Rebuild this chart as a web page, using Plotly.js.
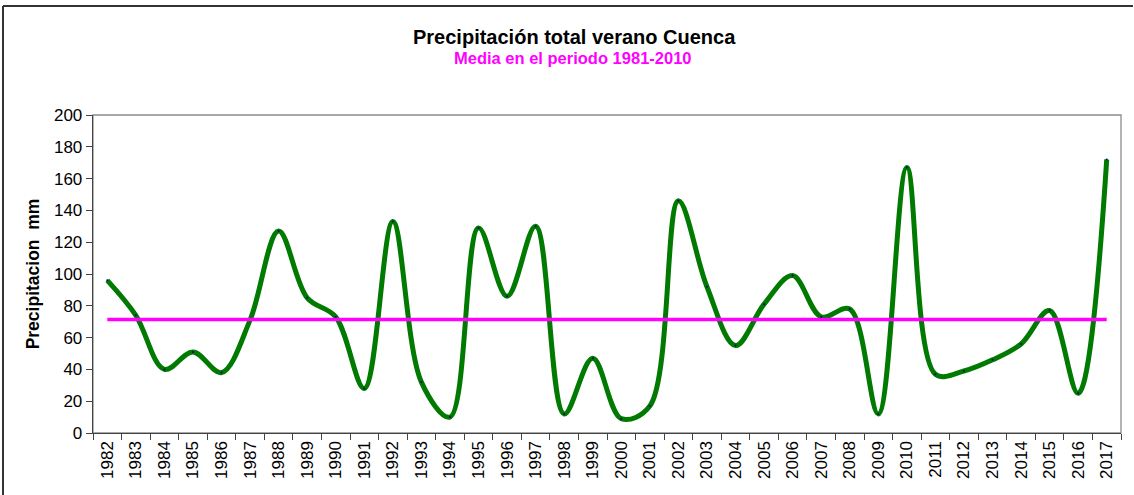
<!DOCTYPE html>
<html>
<head>
<meta charset="utf-8">
<script src="https://cdn.plot.ly/plotly-3.0.1.min.js"></script>
<style>
  html, body { margin: 0; padding: 0; background: #fff; }
  #chart { width: 1134px; height: 495px; }
</style>
</head>
<body>
<div id="chart"></div>
<script>
const years = ["1982","1983","1984","1985","1986","1987","1988","1989","1990","1991",
  "1992","1993","1994","1995","1996","1997","1998","1999","2000","2001",
  "2002","2003","2004","2005","2006","2007","2008","2009","2010","2011",
  "2012","2013","2014","2015","2016","2017"];
const precipitacion = [96, 74, 40, 51, 38, 71, 127, 85, 73, 28,
  133, 32, 10, 129, 86, 130, 12, 47, 9, 17,
  146, 92, 55, 81, 99, 73, 78, 12, 167, 37,
  39, 46, 56, 77, 25, 172];
const media = [71.4, 71.4, 71.4, 71.4, 71.4, 71.4, 71.4, 71.4, 71.4, 71.4,
  71.4, 71.4, 71.4, 71.4, 71.4, 71.4, 71.4, 71.4, 71.4, 71.4,
  71.4, 71.4, 71.4, 71.4, 71.4, 71.4, 71.4, 71.4, 71.4, 71.4,
  71.4, 71.4, 71.4, 71.4, 71.4, 71.4];
const yTicks = [0, 20, 40, 60, 80, 100, 120, 140, 160, 180, 200];

const FONT = "Liberation Sans, Arial, sans-serif";

const traces = [
  {
    x: years, y: precipitacion, type: "scatter", mode: "lines+markers",
    line: { color: "#007a00", width: 5, shape: "spline", smoothing: 1 },
    marker: { size: 2, color: "#000080" },
    hoverinfo: "x+y", showlegend: false
  },
  {
    x: years, y: media, type: "scatter", mode: "lines",
    line: { color: "#ff00ff", width: 3.5 },
    hoverinfo: "x+y", showlegend: false
  }
];

const layout = {
  width: 1134, height: 495,
  margin: { l: 93, r: 13, t: 115, b: 62 },
  paper_bgcolor: "#ffffff", plot_bgcolor: "#ffffff",
  font: { family: FONT, size: 17, color: "#000" },
  xaxis: {
    type: "category",
    showgrid: false, zeroline: false,
    showline: true, linecolor: "#444", linewidth: 1.3,
    ticks: "outside", tickson: "boundaries", ticklen: 6, tickcolor: "#444",
    tickangle: -90, tickfont: { family: FONT, size: 17, color: "#000" },
    range: [-0.5, 35.5], fixedrange: true
  },
  yaxis: {
    range: [0, 200], tickvals: yTicks, ticktext: yTicks.map(String),
    showgrid: false, zeroline: false,
    showline: true, linecolor: "#444", linewidth: 1.3,
    ticks: "outside", ticklen: 6, tickcolor: "#444",
    tickfont: { family: FONT, size: 17, color: "#000" },
    title: { text: "Precipitacion  mm", font: { family: FONT, size: 17.5, color: "#000", weight: "bold" }, standoff: 9 },
    fixedrange: true
  },
  shapes: [
    { type: "rect", xref: "paper", yref: "paper", x0: 0, x1: 1, y0: 0, y1: 1,
      line: { color: "#8c8c8c", width: 1.3 }, layer: "below" },
    { type: "line", xref: "paper", yref: "paper",
      x0: -90/1028, x1: 1 + 12/1028, y0: (495-62-6)/318, y1: (495-62-6)/318,
      line: { color: "#333", width: 2 } },
    { type: "line", xref: "paper", yref: "paper",
      x0: -90/1028, x1: -90/1028, y0: -62/318, y1: (495-62-6)/318,
      line: { color: "#333", width: 2 } }
  ],
  annotations: [
    { xref: "paper", yref: "paper", x: (574-93)/1028, y: (495-62-37)/318,
      text: "<b>Precipitación total verano Cuenca</b>", showarrow: false,
      xanchor: "center", yanchor: "middle",
      font: { family: FONT, size: 20, color: "#000" } },
    { xref: "paper", yref: "paper", x: (573-93)/1028, y: (495-62-58)/318,
      text: "<b>Media en el periodo 1981-2010</b>", showarrow: false,
      xanchor: "center", yanchor: "middle",
      font: { family: FONT, size: 16.5, color: "#ff00ff" } }
  ]
};

Plotly.newPlot("chart", traces, layout, { staticPlot: true, displayModeBar: false });
</script>
</body>
</html>
